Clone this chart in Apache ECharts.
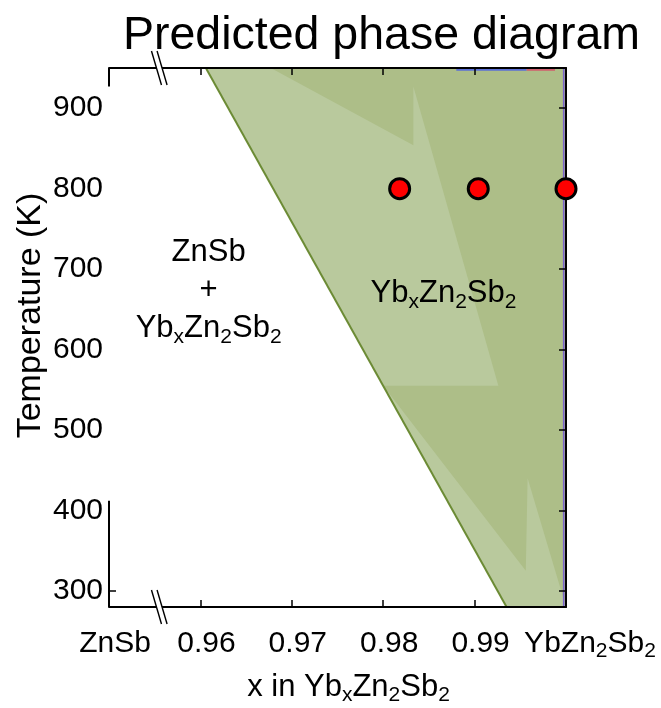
<!DOCTYPE html>
<html>
<head>
<meta charset="utf-8">
<script src="https://cdn.jsdelivr.net/npm/echarts@6/dist/echarts.min.js"></script>
<style>
  html, body { margin: 0; padding: 0; background: #ffffff; }
  #chart { width: 661px; height: 708px; }
</style>
</head>
<body>
<div id="chart"></div>
<script>
// Composition axis: x in YbxZn2Sb2 (ZnSb end at 0.95, YbZn2Sb2 end at 1.00)
const xTicks = [0.95, 0.96, 0.97, 0.98, 0.99];
const xTickLabels = ['ZnSb', '0.96', '0.97', '0.98', '0.99'];
const xEndValue = 1.00;
const xEndLabel = 'YbZn2Sb2';
const xInnerTicks = [0.96, 0.97, 0.98, 0.99];

// Temperature axis (K)
const tempTicks = [300, 400, 500, 600, 700, 800, 900];
const leftTempTicks = [300];
const tempMin = 280;
const tempMax = 950;

// Phase boundary between ZnSb + YbxZn2Sb2 and single-phase YbxZn2Sb2
const solvusLine = [[0.9606, 950], [0.9935, 280]];

// Single-phase region (light shade)
const singlePhaseRegion = [[0.9606, 950], [1.0, 950], [1.0, 280], [0.9935, 280]];

// Overlapping darker shade inside the single-phase region
const darkShadeRegion = [
  [0.9677, 950], [1.0, 950], [1.0, 280], [0.9958, 440], [0.9956, 325],
  [0.9800, 555], [0.9926, 555], [0.9833, 927], [0.9833, 854]
];

// Thin boundary traces along the top and right frame
const topBlueTrace = [[0.9880, 947.8], [0.9957, 947.8]];
const topRedTrace = [[0.9957, 947.8], [0.9988, 947.8]];
const rightTrace = [[0.99975, 280], [0.99975, 950]];

// Visible pieces of the left frame line
const leftFrameTop = [[0.95, 950], [0.95, 927]];
const leftFrameBottom = [[0.95, 412], [0.95, 280]];

// Axis break positions
const breakMarks = [[0.9555, 280], [0.9555, 950]];

// Synthesized samples at 800 K
const sampleX = [0.9818, 0.9904, 1.0];
const sampleT = [800, 800, 800];

// Region annotations
const twoPhaseLabelPos = [0.9609, 673];
const singlePhaseLabelPos = [0.9866, 670];

const FONT = 'Liberation Sans, Arial, Helvetica, sans-serif';

function makeRich(size, subSize, lh) {
  return {
    m: { fontSize: size, fontFamily: FONT, color: '#000', lineHeight: lh },
    s: { fontSize: subSize, fontFamily: FONT, color: '#000', lineHeight: Math.round(lh * 0.55), verticalAlign: 'bottom' },
    n: { fontSize: size, fontFamily: FONT, color: '#000', lineHeight: lh, padding: [0, 0, 0, 12] }
  };
}
const tickRich = makeRich(30, 21, 37);
const textRich = makeRich(31, 21, 38);

function formula(parts) {
  // parts: array of [text, isSub]
  return parts.map(p => (p[1] ? '{s|' : '{m|') + p[0] + '}').join('');
}

const ybxzn2sb2 = formula([['Yb', 0], ['x', 1], ['Zn', 0], ['2', 1], ['Sb', 0], ['2', 1]]);
const ybzn2sb2 = formula([['YbZn', 0], ['2', 1], ['Sb', 0], ['2', 1]]);

function polygonSeries(points, color, z) {
  return {
    type: 'custom',
    coordinateSystem: 'cartesian2d',
    xAxisIndex: 0, yAxisIndex: 0,
    z: z,
    silent: true,
    clip: true,
    data: [points[0]],
    renderItem: function (params, api) {
      return {
        type: 'polygon',
        shape: { points: points.map(p => api.coord(p)) },
        style: { fill: color }
      };
    }
  };
}

function lineSeries(points, color, width, z) {
  return {
    type: 'line',
    data: points,
    symbol: 'none',
    silent: true,
    clip: false,
    z: z,
    lineStyle: { color: color, width: width },
    animation: false
  };
}

const chart = echarts.init(document.getElementById('chart'), null, { renderer: 'canvas' });

const option = {
  animation: false,
  backgroundColor: '#ffffff',
  title: {
    text: 'Predicted phase diagram',
    left: 123,
    top: 13,
    padding: 0,
    textStyle: { fontSize: 46.5, fontWeight: 'normal', fontFamily: FONT, color: '#000' }
  },
  grid: { left: 109, right: 95, top: 68, bottom: 101, containLabel: false, outerBoundsMode: 'none' },
  xAxis: [
    {
      type: 'value', position: 'bottom', min: 0.95, max: 1.0, z: 4,
      axisLine: { show: true, onZero: false, lineStyle: { color: '#000', width: 2 } },
      axisTick: { show: true, inside: true, length: 7, customValues: xInnerTicks, lineStyle: { color: '#000', width: 1.5 } },
      splitLine: { show: false },
      axisLabel: {
        show: true, customValues: xTicks, margin: 18, color: '#000', rich: tickRich,
        showMinLabel: true,
        formatter: function (v) {
          const i = xTicks.findIndex(t => Math.abs(t - v) < 1e-9);
          return '{n|' + xTickLabels[i] + '}';
        }
      },
      name: '{m|x in }' + ybxzn2sb2,
      nameLocation: 'middle',
      nameGap: 61,
      nameMoveOverlap: false,
      nameTextStyle: { rich: textRich, padding: [0, 0, 0, 22] }
    },
    {
      type: 'value', position: 'top', min: 0.95, max: 1.0, z: 4,
      axisLine: { show: true, onZero: false, lineStyle: { color: '#000', width: 2 } },
      axisTick: { show: true, inside: true, length: 7, customValues: xInnerTicks, lineStyle: { color: '#000', width: 1.5 } },
      axisLabel: { show: false },
      splitLine: { show: false }
    }
  ],
  yAxis: [
    {
      type: 'value', position: 'left', min: tempMin, max: tempMax, z: 4,
      axisLine: { show: false },
      axisTick: { show: true, inside: true, length: 7, customValues: leftTempTicks, lineStyle: { color: '#000', width: 1.5 } },
      splitLine: { show: false },
      axisLabel: {
        show: true, customValues: tempTicks, margin: 6, color: '#000',
        fontSize: 30, fontFamily: FONT
      },
      name: 'Temperature (K)',
      nameLocation: 'middle',
      nameRotate: 90,
      nameGap: 61,
      nameMoveOverlap: false,
      nameTextStyle: { fontSize: 34, fontFamily: FONT, color: '#000', padding: [0, 0, 0, 44] }
    },
    {
      type: 'value', position: 'right', min: tempMin, max: tempMax, z: 4,
      axisLine: { show: true, onZero: false, lineStyle: { color: '#000', width: 2 } },
      axisTick: { show: true, inside: true, length: 7, customValues: tempTicks, lineStyle: { color: '#000', width: 1.5 } },
      axisLabel: { show: false },
      splitLine: { show: false }
    }
  ],
  series: [
    polygonSeries(singlePhaseRegion, '#b9c99d', 1),
    polygonSeries(darkShadeRegion, '#adbe88', 1),
    lineSeries(solvusLine, '#6c8b35', 2, 2),
    lineSeries(topBlueTrace, '#5b6fd6', 2, 2),
    lineSeries(topRedTrace, '#d0606e', 2, 2),
    lineSeries(rightTrace, '#7a62cc', 1.6, 2),
    lineSeries(leftFrameTop, '#000', 2, 5),
    lineSeries(leftFrameBottom, '#000', 2, 5),
    {
      // axis break symbols across the top and bottom frame
      type: 'custom',
      z: 8,
      silent: true,
      clip: false,
      data: breakMarks,
      renderItem: function (params, api) {
        const c = api.coord([api.value(0), api.value(1)]);
        const h = 17, slant = 5, half = 2.8;
        const k = slant / h;
        return {
          type: 'group',
          children: [
            {
              type: 'polygon',
              shape: { points: [
                [c[0] - half - 4 * k, c[1] - 4], [c[0] + half - 4 * k, c[1] - 4],
                [c[0] + half + 4 * k, c[1] + 4], [c[0] - half + 4 * k, c[1] + 4]
              ] },
              style: { fill: '#ffffff' }
            },
            {
              type: 'line',
              shape: { x1: c[0] - half - slant, y1: c[1] - h, x2: c[0] - half + slant, y2: c[1] + h },
              style: { stroke: '#000', lineWidth: 1.4 }
            },
            {
              type: 'line',
              shape: { x1: c[0] + half - slant, y1: c[1] - h, x2: c[0] + half + slant, y2: c[1] + h },
              style: { stroke: '#000', lineWidth: 1.4 }
            }
          ]
        };
      }
    },
    {
      type: 'scatter',
      z: 10,
      clip: false,
      silent: true,
      data: sampleX.map((x, i) => [x, sampleT[i]]),
      symbol: 'circle',
      symbolSize: 20,
      itemStyle: { color: '#ff0000', borderColor: '#000', borderWidth: 3, opacity: 1 }
    },
    {
      type: 'scatter',
      z: 9,
      silent: true,
      symbolSize: 0,
      itemStyle: { opacity: 1 },
      data: [
        { value: twoPhaseLabelPos, label: { formatter: '{m|ZnSb}\n{m|+}\n' + ybxzn2sb2 } },
        { value: singlePhaseLabelPos, label: { formatter: ybxzn2sb2 } }
      ],
      label: {
        show: true, position: 'inside', align: 'center', verticalAlign: 'middle',
        color: '#000', opacity: 1, textBorderWidth: 0, textBorderColor: 'transparent', rich: textRich
      }
    },
    {
      // end-member name under the right end of the composition axis
      type: 'scatter',
      z: 9,
      silent: true,
      clip: false,
      symbolSize: 0,
      itemStyle: { opacity: 1 },
      data: [{ value: [xEndValue, tempMin], name: xEndLabel }],
      label: {
        show: true, position: 'bottom', distance: 18, offset: [24, 0],
        color: '#000', textBorderWidth: 0, rich: tickRich,
        formatter: function () { return ybzn2sb2; }
      }
    }
  ]
};

chart.setOption(option);
</script>
</body>
</html>
